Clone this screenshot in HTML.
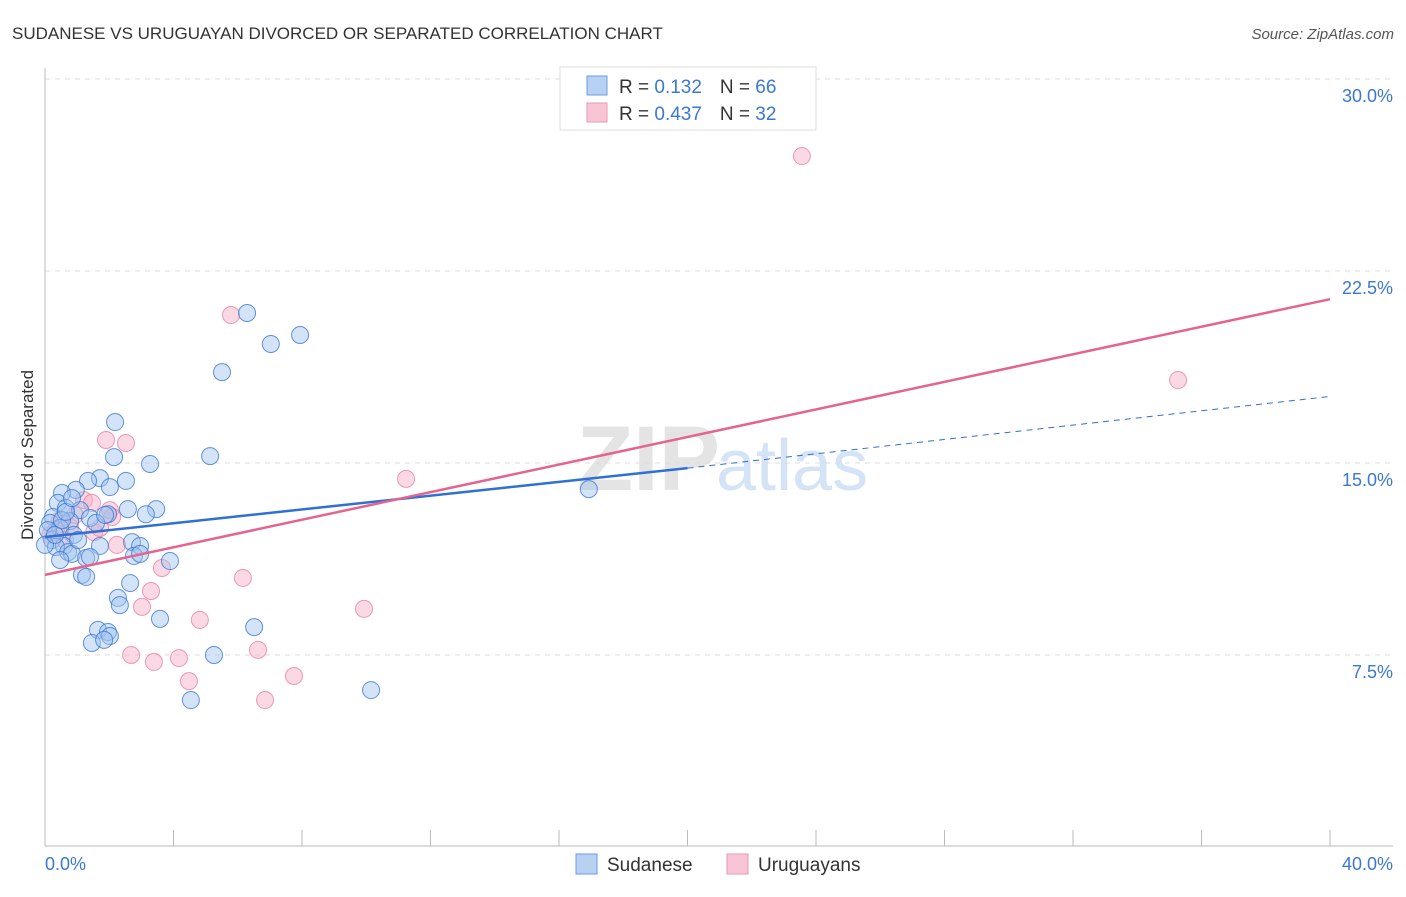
<!DOCTYPE html>
<html><head><meta charset="utf-8"><style>
body{margin:0;background:#fff;font-family:"Liberation Sans",sans-serif;}
svg text{font-family:"Liberation Sans",sans-serif;}
</style></head><body>
<svg id="c" width="1406" height="892" xmlns="http://www.w3.org/2000/svg">
<text x="12" y="39" font-size="17" fill="#333">SUDANESE VS URUGUAYAN DIVORCED OR SEPARATED CORRELATION CHART</text>
<text x="1394" y="39" font-size="15" fill="#555" font-style="italic" text-anchor="end">Source: ZipAtlas.com</text>
<text x="720" y="490" font-size="92" fill="#e4e4e4" text-anchor="end" font-family="Liberation Serif" font-weight="bold">ZIP</text>
<text x="716" y="490" font-size="72" fill="#d4e3f5">atlas</text>
<text transform="translate(33,455) rotate(-90)" font-size="17" fill="#333" text-anchor="middle">Divorced or Separated</text>
<g id="grid"></g><g id="axes"></g><g id="pts"></g><g id="lines"></g>
<g>
<rect x="560" y="67" width="256" height="63" fill="#fff" stroke="#ddd"/>
<rect x="587" y="76" width="20" height="19" fill="#b8d1f3" stroke="#6a9be0"/>
<rect x="587" y="103" width="20" height="19" fill="#f8c5d5" stroke="#ea97b2"/>
<text x="619" y="93" font-size="19" fill="#333">R = <tspan fill="#3a78d4"> 0.132</tspan><tspan dx="18">N = </tspan><tspan fill="#3a78d4">66</tspan></text>
<text x="619" y="120" font-size="19" fill="#333">R = <tspan fill="#3a78d4">0.437</tspan><tspan dx="18">N = </tspan><tspan fill="#3a78d4">32</tspan></text>
</g>
<g>
<rect x="576" y="854" width="21" height="20" fill="#b8d1f3" stroke="#6a9be0"/>
<text x="607" y="871" font-size="19" fill="#333">Sudanese</text>
<rect x="727" y="854" width="21" height="20" fill="#f8c5d5" stroke="#ea97b2"/>
<text x="758" y="871" font-size="19" fill="#333">Uruguayans</text>
</g>
</svg>
<script>
const blueX=[2.18,2.15,3.27,1.71,1.34,0.96,0.53,2.52,2.02,0.40,0.65,1.09,1.96,2.58,3.46,3.14,0.25,0.78,1.40,0.16,0.47,0.90,1.59,0.22,0.59,0.34,1.71,0.72,0.84,1.28,1.40,2.71,2.96,2.77,2.96,3.89,1.15,1.28,2.65,2.27,2.33,3.58,1.65,1.96,2.02,1.46,1.84,5.51,6.29,7.03,7.94,5.14,6.51,5.26,4.54,10.15,16.93,0.09,0.0,0.31,0.53,1.87,1.03,0.47,0.65,0.84];
const blueY=[16.6,15.23,14.96,14.41,14.3,13.95,13.83,14.3,14.06,13.44,13.24,13.16,13.0,13.2,13.2,13.0,12.89,12.73,12.85,12.66,12.46,12.19,12.66,11.99,11.76,11.72,11.76,11.52,11.45,11.29,11.33,11.91,11.76,11.37,11.45,11.17,10.63,10.55,10.31,9.73,9.45,8.91,8.48,8.40,8.24,7.97,8.09,18.55,20.86,19.65,20.0,15.27,8.59,7.5,5.74,6.13,13.98,12.38,11.8,12.19,12.77,12.97,11.99,11.21,13.09,13.63];
const pinkX=[23.56,35.27,5.79,1.90,2.52,11.24,1.21,2.02,1.46,0.47,0.78,0.16,0.34,2.24,1.53,3.64,6.16,3.30,3.02,4.82,9.93,2.68,3.39,4.17,6.63,4.48,7.75,6.85,0.93,0.62,1.71,2.09];
const pinkY=[26.99,18.24,20.78,15.9,15.78,14.38,13.55,13.16,13.44,12.77,12.5,12.19,12.38,11.8,12.3,10.9,10.51,10.0,9.38,8.87,9.3,7.5,7.23,7.38,7.7,6.48,6.68,5.74,12.97,11.99,12.46,12.89];
const yTicks=[7.5,15,22.5,30];
const yTickLabels=["7.5%","15.0%","22.5%","30.0%"];
const blueTrend=[12.11,14.8,17.6];
const pinkTrend=[10.63,21.4];
const NS="http://www.w3.org/2000/svg";
const X=v=>45+v*1285/40, Y=v=>847-v*25.6;
function mk(t,a,p){const e=document.createElementNS(NS,t);for(const k in a)e.setAttribute(k,a[k]);document.getElementById(p).appendChild(e);return e;}
yTicks.forEach((t,i)=>{
 const g=mk('line',{x1:45,x2:1393,y1:Y(t),y2:Y(t),stroke:'#ddd','stroke-dasharray':'5,5'},'grid');
 
 
 const l=mk('text',{x:1393,y:Y(t)+23,'font-size':18,fill:'#3a78d4','text-anchor':'end'},'grid');
 l.textContent=yTickLabels[i];
 
 
});
mk('line',{x1:45,x2:45,y1:68,y2:846,stroke:'#bbb'},'axes');
mk('line',{x1:45,x2:1393,y1:846,y2:846,stroke:'#bbb'},'axes');
for(let i=0;i<=10;i++){const t=mk('line',{x1:X(i*4),x2:X(i*4),y1:830,y2:846,stroke:'#bbb'},'axes');
 
 }
let a=mk('text',{x:45,y:870,'font-size':18,fill:'#3a78d4'},'axes');a.textContent='0.0%';


a=mk('text',{x:1393,y:870,'font-size':18,fill:'#3a78d4','text-anchor':'end'},'axes');a.textContent='40.0%';


pinkX.forEach((x,i)=>{const c=mk('circle',{cx:X(x),cy:Y(pinkY[i]),r:8.5,fill:'rgba(244,170,195,0.45)',stroke:'rgba(230,130,165,0.8)','stroke-width':1},'pts');
 
 });
blueX.forEach((x,i)=>{const c=mk('circle',{cx:X(x),cy:Y(blueY[i]),r:8.5,fill:'rgba(160,195,240,0.45)',stroke:'rgba(60,120,210,0.8)','stroke-width':1},'pts');
 
 });
let l=mk('line',{x1:X(0),y1:Y(blueTrend[0]),x2:X(20),y2:Y(blueTrend[1]),stroke:'#2f6fd6','stroke-width':2.5},'lines');


l=mk('line',{x1:X(20),y1:Y(blueTrend[1]),x2:X(40),y2:Y(blueTrend[2]),stroke:'#2f6fd6','stroke-width':1,'stroke-dasharray':'6,5'},'lines');


l=mk('line',{x1:X(0),y1:Y(pinkTrend[0]),x2:X(40),y2:Y(pinkTrend[1]),stroke:'#e4648e','stroke-width':2.5},'lines');


</script>
</body></html>
